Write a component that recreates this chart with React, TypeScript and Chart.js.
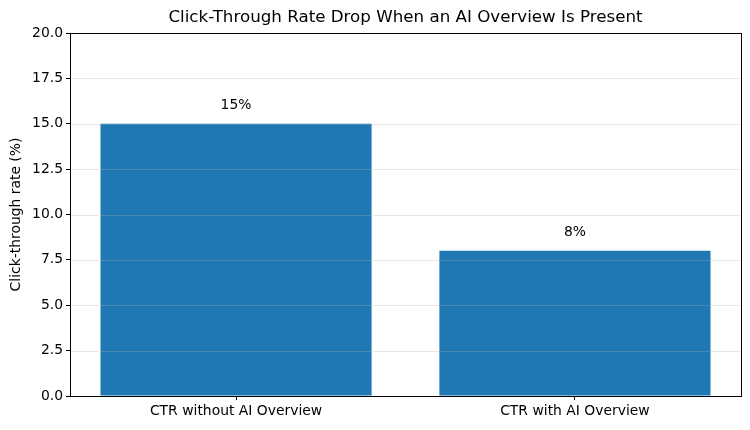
import React, { useEffect, useRef } from "react";
import { Chart, registerables } from "chart.js";

Chart.register(...registerables);

const categories = ["CTR without AI Overview", "CTR with AI Overview"];
const ctrValues = [15, 8];
const valueLabels = ["15%", "8%"];
const titleText = "Click-Through Rate Drop When an AI Overview Is Present";
const yAxisTitle = "Click-through rate (%)";

const FONT = "'DejaVu Sans', sans-serif";
const SMALL = 13.9;

export default function App() {
  const ref = useRef<HTMLCanvasElement | null>(null);

  useEffect(() => {
    const canvas = ref.current;
    if (!canvas) return;

    const overlay = {
      id: "overlay",
      afterDatasetsDraw(chart: any) {
        const { ctx, chartArea } = chart;
        const y = chart.scales.y;
        ctx.save();
        // grid lines on top of bars
        ctx.strokeStyle = "rgba(176,176,176,0.3)";
        ctx.lineWidth = 1;
        y.ticks.forEach((t: any) => {
          const py = Math.round(y.getPixelForValue(t.value)) + 0.5;
          ctx.beginPath();
          ctx.moveTo(chartArea.left, py);
          ctx.lineTo(chartArea.right, py);
          ctx.stroke();
        });
        // value labels
        const meta = chart.getDatasetMeta(0);
        ctx.fillStyle = "#000";
        ctx.font = `${SMALL}px ${FONT}`;
        ctx.textAlign = "center";
        ctx.textBaseline = "middle";
        meta.data.forEach((bar: any, i: number) => {
          ctx.fillText(valueLabels[i], bar.x, bar.y - 18);
        });
        // spines
        ctx.strokeStyle = "#000";
        ctx.lineWidth = 1;
        ctx.strokeRect(
          Math.round(chartArea.left) + 0.5,
          Math.round(chartArea.top) + 0.5,
          Math.round(chartArea.right - chartArea.left),
          Math.round(chartArea.bottom - chartArea.top)
        );
        // title
        ctx.font = `16.7px ${FONT}`;
        ctx.fillText(titleText, (chartArea.left + chartArea.right) / 2, 18);
        ctx.restore();
      },
    };

    const chart = new Chart(canvas, {
      type: "bar",
      data: {
        datasets: [
          {
            data: ctrValues.map((v, i) => ({ x: i, y: v })),
            backgroundColor: "#1f77b4",
            borderWidth: 0,
            inflateAmount: 0,
            categoryPercentage: 1,
            barPercentage: 0.8,
          },
        ],
      },
      options: {
        responsive: false,
        animation: false,
        layout: { padding: { top: 33, right: 9, left: 0, bottom: 0 } },
        plugins: {
          legend: { display: false },
          title: { display: false },
          tooltip: { enabled: false },
        },
        scales: {
          x: {
            type: "linear",
            min: -0.49,
            max: 1.49,
            offset: false,
            afterBuildTicks(scale: any) {
              scale.ticks = categories.map((_, i) => ({ value: i }));
            },
            grid: {
              offset: false,
              drawOnChartArea: false,
              tickLength: 4,
              tickColor: "#000",
            },
            border: { display: false },
            ticks: {
              color: "#000",
              font: { family: FONT, size: SMALL },
              padding: 3,
              callback: (v: any) => categories[Math.round(Number(v))] ?? "",
            },
            afterFit(scale: any) {
              scale.height = 34;
            },
          },
          y: {
            min: 0,
            max: 20,
            ticks: {
              stepSize: 2.5,
              color: "#000",
              font: { family: FONT, size: SMALL },
              padding: 3,
              callback: (v: any) => Number(v).toFixed(1),
            },
            grid: {
              drawOnChartArea: false,
              tickLength: 4,
              tickColor: "#000",
            },
            border: { display: false },
            title: {
              display: true,
              text: yAxisTitle,
              color: "#000",
              font: { family: FONT, size: SMALL },
              padding: { top: 8, bottom: 4 },
            },
            afterFit(scale: any) {
              scale.width = 70;
            },
          },
        },
      },
      plugins: [overlay],
    });

    return () => chart.destroy();
  }, []);

  return (
    <div style={{ position: "fixed", left: 0, top: 0, width: 750, height: 430, background: "#fff" }}>
      <canvas ref={ref} width={750} height={430} />
    </div>
  );
}
